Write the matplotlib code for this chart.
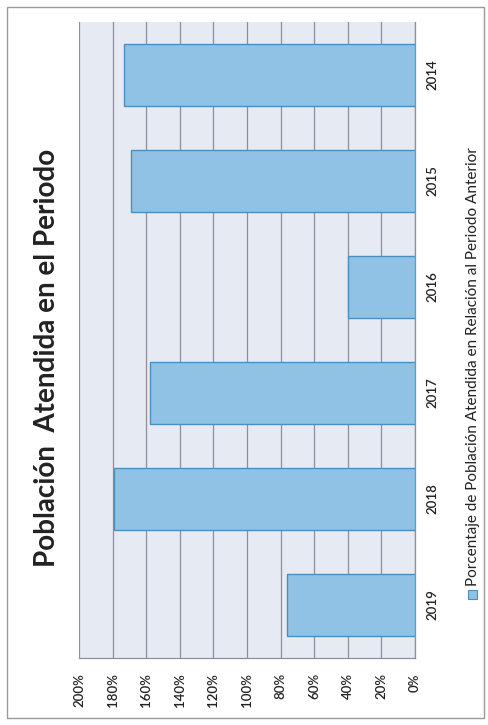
import matplotlib
matplotlib.use('Agg')
import matplotlib.pyplot as plt
from matplotlib.patches import Rectangle

# data
years = ['2014', '2015', '2016', '2017', '2018', '2019']
values = [173, 169, 40, 158, 179, 76]   # percent
value_ticks = [0, 20, 40, 60, 80, 100, 120, 140, 160, 180, 200]
title = 'Población  Atendida en el Periodo'
legend_label = 'Porcentaje de Población Atendida en Relación al Periodo Anterior'

plt.rcParams['font.family'] = ['Lato', 'DejaVu Sans']

fig = plt.figure(figsize=(4.89, 7.25), dpi=100)
fig.patch.set_facecolor('white')

# outer frame
fig.add_artist(Rectangle((0.014, 0.009), 0.975, 0.982, transform=fig.transFigure,
                         fill=False, edgecolor='#9a9a9a', linewidth=1.0))

ax = fig.add_axes([79 / 489, 67 / 725, 336 / 489, 636 / 725])
ax.set_facecolor('#e6eaf2')

pos = list(range(len(years)))
ax.barh(pos, values, height=0.58, color='#8fc2e5', edgecolor='#4a8fc2',
        linewidth=1.0, zorder=3)

ax.set_xlim(200, 0)
ax.set_ylim(len(years) - 0.5, -0.5)

ax.set_xticks(value_ticks)
ax.set_xticklabels([f'{v}%' for v in value_ticks], rotation=90, fontsize=9.5,
                   fontweight='semibold', color='#222222')
ax.tick_params(axis='x', length=0, pad=11)
ax.grid(axis='x', color='#8e8e9e', linewidth=0.9, zorder=1)

ax.yaxis.tick_right()
ax.set_yticks(pos)
ax.set_yticklabels(years, rotation=90, fontsize=9.5, fontweight='semibold',
                   color='#222222', va='center')
ax.tick_params(axis='y', length=0, pad=8)

for s in ['top', 'left']:
    ax.spines[s].set_visible(False)
for s in ['bottom', 'right']:
    ax.spines[s].set_color('#8e8e9e')
    ax.spines[s].set_linewidth(0.9)

# title (rotated)
fig.text(47 / 489, 1 - 358 / 725, title, rotation=90, ha='center', va='center',
         fontsize=20, fontweight='bold', color='#222222')

# legend (rotated)
fig.add_artist(Rectangle((468 / 489, 1 - 599 / 725), 9 / 489, 9 / 725,
                         transform=fig.transFigure, facecolor='#8fc2e5',
                         edgecolor='#4a8fc2', linewidth=0.8))
fig.text(473 / 489, 1 - 586 / 725, legend_label, rotation=90, ha='center',
         va='bottom', fontsize=11, color='#222222')

fig.savefig('out.png', dpi=100)
